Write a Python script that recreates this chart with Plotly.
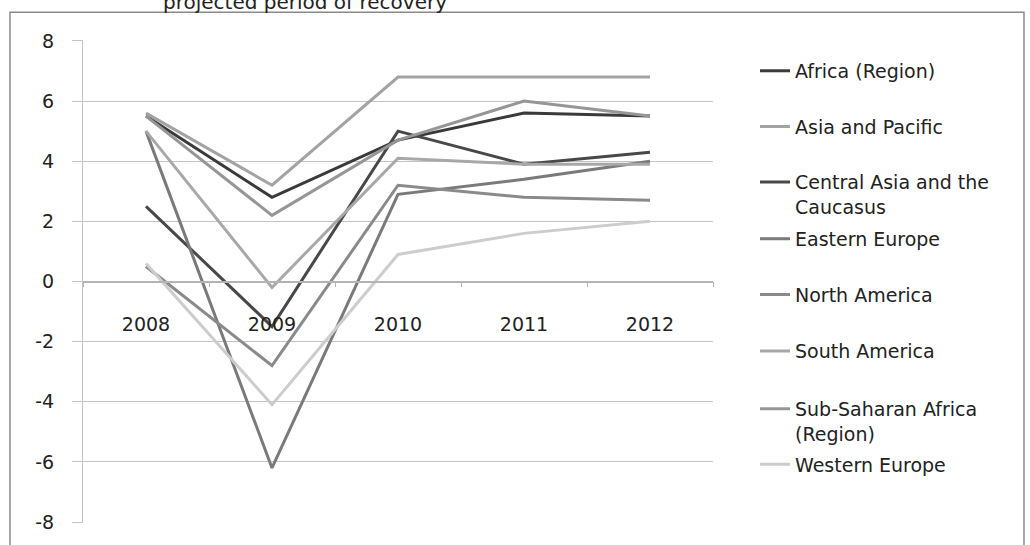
import plotly.graph_objects as go

years = ["2008", "2009", "2010", "2011", "2012"]
series_names = [
    "Africa (Region)",
    "Asia and Pacific",
    "Central Asia and the<br>Caucasus",
    "Eastern Europe",
    "North America",
    "South America",
    "Sub-Saharan Africa<br>(Region)",
    "Western Europe",
]
africa = [5.5, 2.8, 4.7, 5.6, 5.5]
asia_pacific = [5.6, 3.2, 6.8, 6.8, 6.8]
central_asia = [2.5, -1.5, 5.0, 3.9, 4.3]
eastern_europe = [5.0, -6.2, 2.9, 3.4, 4.0]
north_america = [0.5, -2.8, 3.2, 2.8, 2.7]
south_america = [5.0, -0.2, 4.1, 3.9, 3.9]
sub_saharan = [5.5, 2.2, 4.7, 6.0, 5.5]
western_europe = [0.6, -4.1, 0.9, 1.6, 2.0]
y_ticks = [-8, -6, -4, -2, 0, 2, 4, 6, 8]
y_tick_labels = ["-8", "-6", "-4", "-2", "0", "2", "4", "6", "8"]
title_text = "projected period of recovery"

all_series = [africa, asia_pacific, central_asia, eastern_europe,
              north_america, south_america, sub_saharan, western_europe]
colors = ["#3a3a3a", "#a3a3a3", "#484848", "#7a7a7a",
          "#8a8a8a", "#a8a8a8", "#969696", "#cdcdcd"]

W, H = 1030, 545
L, R, T, B = 83, 713, 40, 526
pw, ph = R - L, B - T

def px_x(x):
    return (x - L) / pw

def px_y(y):
    return (B - y) / ph

FONT = "DejaVu Sans"
fig = go.Figure()
legend_tops = [52, 108, 164, 221, 277, 334, 392, 448]
layout_legends = {}
for i, (name, vals, col) in enumerate(zip(series_names, all_series, colors)):
    key = "legend" if i == 0 else f"legend{i+1}"
    fig.add_trace(go.Scatter(
        x=years, y=vals, name=name, mode="lines",
        line=dict(color=col, width=3),
        legend=key, showlegend=True,
    ))
    layout_legends[key] = dict(
        x=px_x(755), xanchor="left",
        y=px_y(legend_tops[i]), yanchor="top",
        bgcolor="rgba(0,0,0,0)", borderwidth=0,
        font=dict(family=FONT, size=19, color="#222"),
        valign="top", itemwidth=30, visible=True,
    )

fig.update_layout(
    width=W, height=H,
    showlegend=True,
    margin=dict(l=L, r=W - R, t=T, b=H - B, pad=0),
    paper_bgcolor="white", plot_bgcolor="white",
    font=dict(family=FONT, size=19, color="#222"),
    xaxis=dict(
        type="category", range=[-0.5, 4.5],
        anchor="free", position=0.5,
        showline=True, linecolor="#b4b4b4", linewidth=1.5,
        showgrid=False, zeroline=False,
        ticks="outside", tickson="boundaries", ticklen=5, tickcolor="#b4b4b4",
        ticklabelstandoff=26,
        tickfont=dict(family=FONT, size=19, color="#222"),
    ),
    yaxis=dict(
        range=[-8.03, 8.03], tickvals=y_ticks, ticktext=y_tick_labels,
        showgrid=True, gridcolor="#c4c4c4", gridwidth=1.2,
        zeroline=True, zerolinecolor="#b4b4b4", zerolinewidth=1.5,
        showline=True, linecolor="#c4c4c4", linewidth=1,
        ticks="outside", ticklen=10, tickcolor="#c4c4c4",
        ticklabelstandoff=14,
        tickfont=dict(family=FONT, size=19, color="#222"),
    ),
    **layout_legends,
)

fig.add_shape(type="rect", xref="paper", yref="paper",
              x0=px_x(10), x1=px_x(1024), y0=px_y(560), y1=px_y(12),
              line=dict(color="#8a8a8a", width=1.5), fillcolor="rgba(0,0,0,0)",
              layer="below")
fig.add_annotation(text=title_text, xref="paper", yref="paper",
                   x=px_x(305), y=px_y(16), xanchor="center", yanchor="bottom",
                   showarrow=False, font=dict(family=FONT, size=20, color="#222"))

fig.write_html("out.html")
